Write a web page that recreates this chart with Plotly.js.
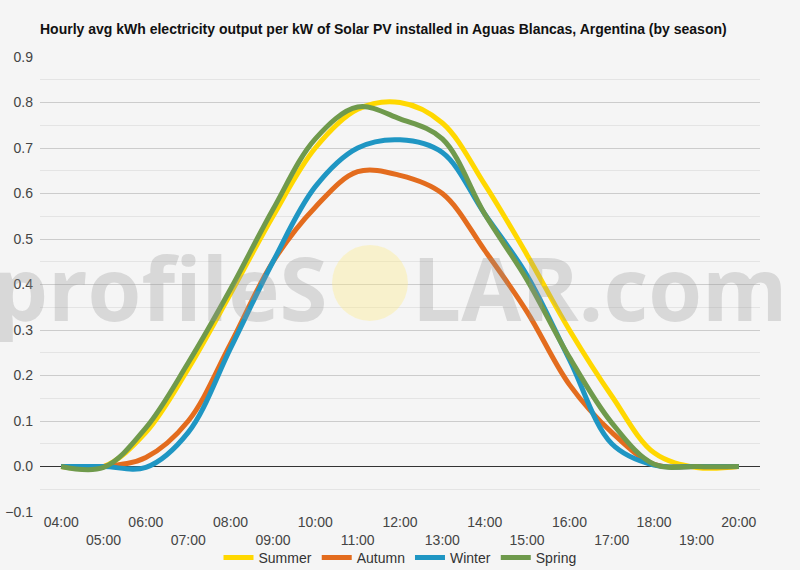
<!DOCTYPE html>
<html>
<head>
<meta charset="utf-8">
<script src="https://cdn.plot.ly/plotly-3.0.1.min.js"></script>
<style>
  body { margin: 0; background: #f5f5f5; }
  #chart { width: 800px; height: 570px; }
</style>
</head>
<body>
<div id="chart"></div>
<script>
var hours = ["04:00", "05:00", "06:00", "07:00", "08:00", "09:00", "10:00", "11:00", "12:00",
             "13:00", "14:00", "15:00", "16:00", "17:00", "18:00", "19:00", "20:00"];
var summer = [0, 0, 0.075, 0.215, 0.38, 0.55, 0.70, 0.785, 0.80, 0.755, 0.62, 0.465, 0.30, 0.155, 0.03, -0.002, 0];
var autumn = [0, 0, 0.02, 0.10, 0.27, 0.45, 0.57, 0.648, 0.64, 0.60, 0.475, 0.34, 0.18, 0.075, 0.005, 0, 0];
var winter = [0, 0, -0.002, 0.075, 0.26, 0.45, 0.615, 0.70, 0.718, 0.69, 0.555, 0.42, 0.235, 0.05, 0.003, 0, 0];
var spring = [0, -0.002, 0.085, 0.228, 0.39, 0.565, 0.72, 0.79, 0.764, 0.72, 0.555, 0.41, 0.24, 0.096, 0.005, 0, 0];

var seasons = ["Summer", "Autumn", "Winter", "Spring"];
var colors = ["#ffd800", "#e36c1e", "#1f96c3", "#6f9a4c"];
var values = [summer, autumn, winter, spring];

// odd hours go on a second row, like the original
var tickText = [];
for (i = 0; i < hours.length; i++) {
  tickText[i] = (i % 2 == 0) ? hours[i] : "<br>" + hours[i];
}

var data = [];
for (s = 0; s < seasons.length; s++) {
  data[s] = {
    x: hours,
    y: values[s],
    type: "scatter",
    mode: "lines",
    name: seasons[s],
    line: { color: colors[s], width: 5, shape: "spline", smoothing: 1 }
  };
}

var wmFont = { family: "Open Sans", size: 87, color: "rgba(150,150,150,0.3)", weight: 700 };

var layout = {
  width: 800,
  height: 570,
  paper_bgcolor: "#f5f5f5",
  plot_bgcolor: "#f5f5f5",
  font: { family: "Liberation Sans, Arial, sans-serif", color: "#444" },
  margin: { l: 40, r: 40, t: 57, b: 58 },
  title: {
    text: "<b>Hourly avg kWh electricity output per kW of Solar PV installed in Aguas Blancas, Argentina (by season)</b>",
    font: { size: 14, color: "#111" },
    x: 0, xref: "paper", xanchor: "left",
    y: 1 - 29 / 570, yref: "container", yanchor: "middle"
  },
  xaxis: {
    type: "category",
    range: [-0.5, 16.5],
    tickvals: hours,
    ticktext: tickText,
    tickfont: { size: 14, color: "#444" },
    showgrid: false,
    zeroline: false,
    ticks: "",
    automargin: false,
    fixedrange: true
  },
  yaxis: {
    range: [-0.1, 0.9],
    dtick: 0.1,
    tickformat: ".1f",
    tickfont: { size: 14, color: "#444" },
    gridcolor: "#cccccc",
    gridwidth: 1,
    minor: { dtick: 0.05, showgrid: true, gridcolor: "#e4e4e4" },
    zeroline: true,
    zerolinecolor: "#333333",
    zerolinewidth: 1,
    automargin: false,
    ticklabelstandoff: 6
  },
  showlegend: true,
  legend: {
    orientation: "h",
    x: 0.5, xanchor: "center",
    yref: "container",
    y: 12 / 570, yanchor: "middle",
    font: { size: 14, color: "#333" },
    bgcolor: "rgba(0,0,0,0)"
  },
  shapes: [{
    type: "circle",
    xref: "paper", yref: "paper",
    x0: 0.4056, x1: 0.511, y0: 0.42, y1: 0.587,
    fillcolor: "rgba(255,236,130,0.35)",
    line: { width: 0 },
    layer: "above"
  }],
  annotations: [{
    text: "profileS",
    xref: "paper", yref: "paper",
    x: 0.403, xanchor: "right",
    y: 0.495, yanchor: "middle",
    showarrow: false,
    font: wmFont
  }, {
    text: "LAR.com",
    xref: "paper", yref: "paper",
    x: 0.514, xanchor: "left",
    y: 0.495, yanchor: "middle",
    showarrow: false,
    font: wmFont
  }]
};

Plotly.newPlot("chart", data, layout, { displayModeBar: false, staticPlot: true });
</script>
</body>
</html>
